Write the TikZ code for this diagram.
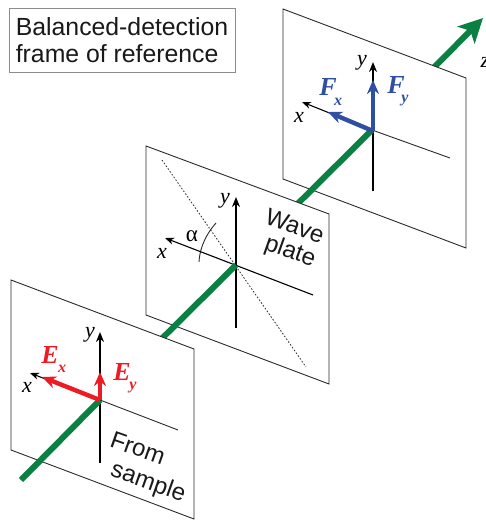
\documentclass[tikz,border=0pt]{standalone}
\usepackage{fontspec}
\setmainfont{Liberation Sans}
\newfontfamily\axisfont{Liberation Serif}
\usetikzlibrary{arrows.meta,positioning,calc}
\definecolor{beamGreen}{HTML}{0B8043}
\definecolor{fieldRed}{HTML}{ED1C24}
\definecolor{fieldBlue}{HTML}{2F4FA3}
\definecolor{plateGray}{HTML}{2B2B2B}
\tikzset{
  plate/.style={draw=plateGray,fill=white,line width=.9pt,line join=miter},
  beam/.style={draw=beamGreen,line width=6pt},
  axis/.style={-{Stealth[length=9pt,width=7pt]},black,line width=1.1pt},
  axisthick/.style={-{Stealth[length=10pt,width=8pt]},black,line width=2pt},
  field/.style={-{Stealth[length=14pt,width=12pt]},line width=4.4pt},
  axislabel/.style={font=\axisfont\itshape\fontsize{22}{22}\selectfont,inner sep=0pt},
  compname/.style={font=\axisfont\itshape\bfseries\fontsize{26}{26}\selectfont,inner sep=0pt},
  compsub/.style={font=\axisfont\itshape\bfseries\fontsize{16}{16}\selectfont,inner sep=0pt},
  platetext/.style={font=\fontsize{24}{28}\selectfont,rotate=-19.5,inner sep=0pt,text=black!90}
}
\begin{document}
\begin{tikzpicture}[x=1pt,y=-1pt,>=Stealth]
  \useasboundingbox (0,0) rectangle (486,520);
  \coordinate (farC) at (372,130);
  \coordinate (midC) at (236,265);
  \coordinate (nearC) at (100,400);
  \coordinate (beamStart) at (21,480);
  \coordinate (beamEnd) at (483,18);

  \draw[beam,-{Stealth[length=24pt,width=24pt,inset=6pt]}] (farC) -- (beamEnd);
  \draw[plate] (283,9) -- (466,78) -- (466,248) -- (283,179) -- cycle;
  \draw[plateGray,line width=.9pt] (450,158) -- (farC);
  \draw[axis] (farC) -- (302,102);
  \draw[axisthick] (373,191) -- (373,62);
  \draw[beam] (midC) -- (farC);
  \draw[field,fieldBlue] (373,131) -- (373,80);
  \draw[field,fieldBlue] (373,131) -- (328,112);
  \node[axislabel] (farY) at (362,63) {y};
  \node[axislabel] (farX) at (299,117) {x};
  \node[compname,text=fieldBlue] (farFx) at (328,87) {F};
  \node[compsub,text=fieldBlue] (farFxSub) at (338,102) {x};
  \node[compname,text=fieldBlue] (farFy) at (396,85) {F};
  \node[compsub,text=fieldBlue] (farFySub) at (405,101) {y};
  \node[axislabel] (beamZ) at (485,62) {z};

  \draw[plate] (146,146) -- (329,214) -- (329,384) -- (146,315) -- cycle;
  \draw[plateGray,line width=.8pt,dash pattern=on 1.6pt off 1.8pt] (162,160) -- (306,367);
  \draw[plateGray,line width=.9pt] (199,262) .. controls (200,245) and (208,232) .. (216,223);
  \draw[axis] (313,295) -- (165,238);
  \draw[axisthick] (236,328) -- (236,197);
  \draw[beam] (nearC) -- (midC);
  \node[axislabel] (midY) at (225,201) {y};
  \node[axislabel] (midX) at (162,253) {x};
  \node[font=\axisfont\fontsize{23}{23}\selectfont,inner sep=0pt] (midAlpha) at (192,236) {α};
  \node[platetext] (waveWord) at (295,226) {Wave};
  \node[platetext] (plateWord) at (290,252) {plate};

  \draw[plate] (11,280) -- (194,349) -- (194,519) -- (11,450) -- cycle;
  \draw[plateGray,line width=.9pt] (178,430) -- (nearC);
  \draw[axis] (nearC) -- (30,373);
  \draw[axisthick] (100,463) -- (100,332);
  \draw[beam] (beamStart) -- (nearC);
  \draw[field,fieldRed] (100,400) -- (100,372);
  \draw[field,fieldRed] (100,400) -- (42,377);
  \node[axislabel] (nearY) at (90,335) {y};
  \node[axislabel] (nearX) at (27,387) {x};
  \node[compname,text=fieldRed] (nearEx) at (50,355) {E};
  \node[compsub,text=fieldRed] (nearExSub) at (62,369) {x};
  \node[compname,text=fieldRed] (nearEy) at (122,372) {E};
  \node[compsub,text=fieldRed] (nearEySub) at (133,388) {y};
  \node[platetext] (fromWord) at (138,448) {From};
  \node[platetext] (sampleWord) at (148,483) {sample};

  \node[draw=black!45,line width=.8pt,fill=white,align=left,inner sep=0pt,
    minimum width=226pt,minimum height=64pt,text=black!90,
    font=\fontsize{24.8}{27}\selectfont] (frameBox) at (122,40)
    {Balanced-detection\\frame of reference};
\end{tikzpicture}
\end{document}
